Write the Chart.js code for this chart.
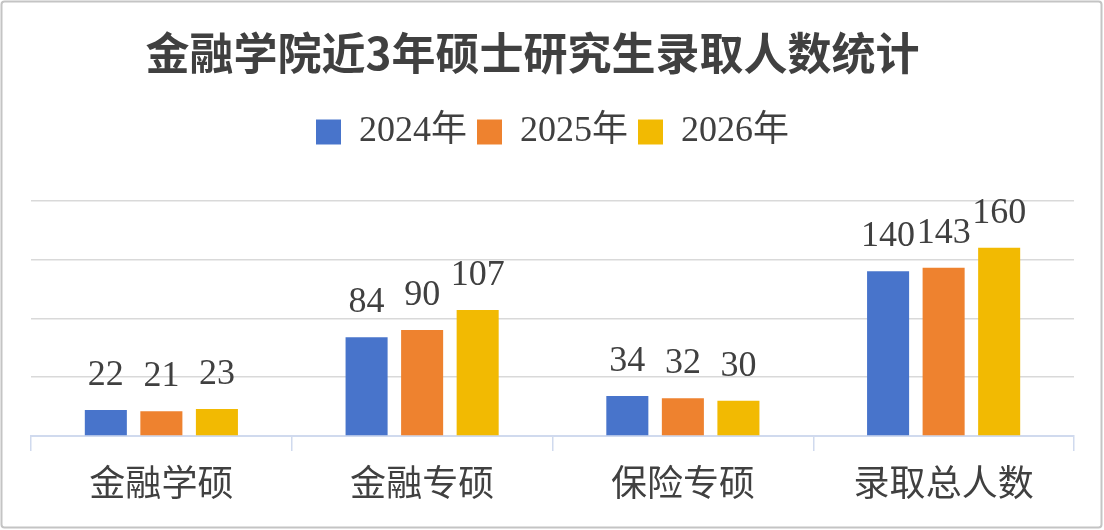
<!DOCTYPE html>
<html>
<head>
<meta charset="utf-8">
<script src="https://cdn.jsdelivr.net/npm/chart.js@4.4.1/dist/chart.umd.min.js"></script>
<style>
  html, body { margin: 0; padding: 0; background: #ffffff; }
  #wrap { width: 1104px; height: 530px; position: relative; }
</style>
</head>
<body>
<div id="wrap"><canvas id="c"></canvas></div>
<script>
const titleText = '金融学院近3年硕士研究生录取人数统计';
const categories = ['金融学硕', '金融专硕', '保险专硕', '录取总人数'];
const seriesNames = ['2024年', '2025年', '2026年'];
const values2024 = [22, 84, 34, 140];
const values2025 = [21, 90, 32, 143];
const values2026 = [23, 107, 30, 160];
const yTicks = [0, 50, 100, 150, 200];

const colors = ['#4874CB', '#EE822F', '#F2BA02'];
const textColor = '#404040';
const serif = '"Liberation Serif", "Noto Sans CJK SC", serif';
const cjk = '"Noto Sans CJK SC", sans-serif';

const borderPlugin = {
  id: 'outerBorder',
  afterLayout(chart) {
    // the reference title sits a little left of the plot centre
    if (chart.titleBlock) chart.titleBlock.left -= 40;
  },
  beforeDraw(chart) {
    const ctx = chart.ctx;
    ctx.save();
    ctx.fillStyle = '#ffffff';
    ctx.fillRect(0, 0, chart.width, chart.height);
    ctx.strokeStyle = '#C4C4C4';
    ctx.lineWidth = 2;
    ctx.beginPath();
    if (ctx.roundRect) ctx.roundRect(1.5, 1.5, chart.width - 4, chart.height - 4, 3);
    else ctx.rect(1.5, 1.5, chart.width - 4, chart.height - 4);
    ctx.stroke();
    ctx.restore();
  }
};

const valueLabels = {
  id: 'valueLabels',
  afterDatasetsDraw(chart) {
    const ctx = chart.ctx;
    ctx.save();
    ctx.font = '36px ' + serif;
    ctx.fillStyle = textColor;
    ctx.textAlign = 'center';
    ctx.textBaseline = 'alphabetic';
    chart.data.datasets.forEach((ds, di) => {
      const meta = chart.getDatasetMeta(di);
      meta.data.forEach((bar, i) => {
        ctx.fillText(String(ds.data[i]), bar.x, bar.y - 25);
      });
    });
    ctx.restore();
  }
};

new Chart(document.getElementById('c'), {
  type: 'bar',
  data: {
    labels: categories,
    datasets: [
      { label: seriesNames[0], data: values2024, backgroundColor: colors[0] },
      { label: seriesNames[1], data: values2025, backgroundColor: colors[1] },
      { label: seriesNames[2], data: values2026, backgroundColor: colors[2] }
    ]
  },
  options: {
    responsive: true,
    maintainAspectRatio: false,
    animation: false,
    devicePixelRatio: 1,
    datasets: { bar: { categoryPercentage: 0.639, barPercentage: 0.757 } },
    layout: { padding: { left: 31, right: 30, top: 0, bottom: 15.8 } },
    plugins: {
      title: {
        display: true,
        text: titleText,
        color: textColor,
        font: { family: cjk, size: 44, weight: 'bold', lineHeight: 1.2 },
        padding: { top: 26.6, bottom: 24.6 }
      },
      subtitle: {
        display: true,
        text: '',
        weight: 500,
        position: 'top',
        font: { size: 1, lineHeight: 1 },
        padding: { top: 39.7, bottom: 0 }
      },
      legend: {
        display: true,
        position: 'top',
        labels: {
          color: textColor,
          font: { family: serif, size: 36 },
          boxWidth: 25,
          boxHeight: 25,
          padding: 10
        }
      },
      tooltip: { enabled: false }
    },
    scales: {
      x: {
        grid: {
          display: true,
          drawOnChartArea: false,
          drawTicks: true,
          tickLength: 15,
          color: '#D0DAEE',
          lineWidth: 1.5,
          offset: true
        },
        border: { display: true, color: '#D0DAEE', width: 2 },
        ticks: {
          color: textColor,
          font: { family: cjk, size: 36, lineHeight: 1.2 },
          padding: 10,
          maxRotation: 0
        }
      },
      y: {
        min: yTicks[0],
        max: yTicks[yTicks.length - 1],
        afterBuildTicks(scale) { scale.ticks = yTicks.map(v => ({ value: v })); },
        ticks: { display: false },
        border: { display: false },
        grid: {
          drawTicks: false,
          color: (c) => (c.tick && c.tick.value === 0) ? 'rgba(0,0,0,0)' : '#D9D9D9',
          lineWidth: 1.5
        }
      }
    }
  },
  plugins: [borderPlugin, valueLabels]
});
</script>
</body>
</html>
